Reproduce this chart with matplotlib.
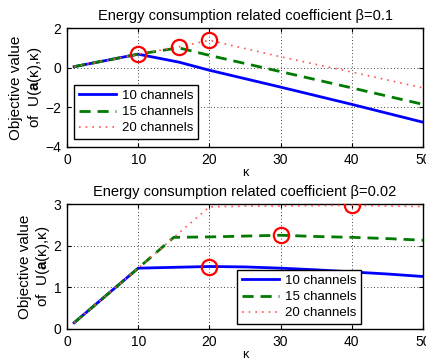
import numpy as np
import matplotlib.pyplot as plt

plt.rcParams['font.family'] = ['Liberation Sans', 'DejaVu Sans']
plt.rcParams['mathtext.fontset'] = 'custom'
plt.rcParams['mathtext.rm'] = 'Liberation Sans'
plt.rcParams['mathtext.bf'] = 'Liberation Sans:bold'

# beta = 0.1
k_top = [1, 10, 15.7, 20, 30, 40, 50]
top_10 = [0.05, 0.68, 0.28, -0.13, -0.98, -1.85, -2.75]
top_15 = [0.05, 0.68, 1.0, 0.62, -0.2, -1.02, -1.85]
top_20 = [0.05, 0.68, 1.05, 1.38, 0.55, -0.22, -1.02]
top_opt_k = [10, 15.7, 20]
top_opt_v = [0.68, 1.05, 1.38]

# beta = 0.02
k_bot = [1, 10, 15, 20, 25, 30, 35, 40, 45, 50]
bot_10 = [0.15, 1.46, 1.48, 1.5, 1.49, 1.46, 1.42, 1.37, 1.32, 1.26]
bot_15 = [0.15, 1.46, 2.2, 2.21, 2.23, 2.25, 2.22, 2.2, 2.17, 2.13]
bot_20 = [0.15, 1.46, 2.2, 2.93, 2.95, 2.95, 2.96, 2.97, 2.95, 2.94]
bot_opt_k = [20, 30, 40]
bot_opt_v = [1.5, 2.25, 2.97]

labels = ['10 channels', '15 channels', '20 channels']

fig = plt.figure(figsize=(4.26, 3.6), dpi=100)
ax1 = fig.add_axes([67/426, 1 - 147/360, 356/426, 119/360])
ax2 = fig.add_axes([67/426, 1 - 329/360, 356/426, 125/360])

def draw(ax, k, s10, s15, s20, ok, ov, title, ylim, yticks, loc, anchor):
	ax.plot(k, s10, color='#0000ff', linestyle='-', lw=2, label=labels[0], zorder=2)
	ax.plot(k, s15, color='#007a00', linestyle=(0, (4, 2.5)), lw=2, label=labels[1], zorder=3)
	ax.plot(k, s20, color='#ff5555', linestyle=(0, (1, 3)), lw=1.2, label=labels[2], zorder=4)
	ax.plot(ok, ov, 'o', ms=11, mfc='none', mec='#ff0000', mew=1.6, zorder=5)
	ax.set_xlim(0, 50)
	ax.set_ylim(*ylim)
	ax.set_xticks([0, 10, 20, 30, 40, 50])
	ax.set_yticks(yticks)
	ax.yaxis.set_major_formatter(plt.FuncFormatter(lambda v, _: f'{v:g}'.replace('-', '\u2212')))
	ax.grid(True, color='black', linestyle=(0, (1, 3)), lw=0.6)
	ax.tick_params(direction='in', labelsize=10, length=3, top=True, right=True, pad=4)
	for sp in ax.spines.values():
		sp.set_linewidth(1)
	ax.set_title(title, fontsize=10.5, pad=6)
	ax.set_xlabel('κ', fontsize=9, labelpad=0)
	ax.set_ylabel('Objective value\nof  U($\\mathbf{a}$(κ),κ)', fontsize=11, labelpad=1,
		linespacing=1.2)
	leg = ax.legend(loc=loc, bbox_to_anchor=anchor, borderaxespad=0, fontsize=9.5,
		fancybox=False, edgecolor='black', framealpha=1, handlelength=2.8,
		borderpad=0.35, labelspacing=0.3, handletextpad=0.45)
	leg.get_frame().set_linewidth(1)

draw(ax1, k_top, top_10, top_15, top_20, top_opt_k, top_opt_v,
	'Energy consumption related coefficient β=0.1', (-4, 2), [-4, -2, 0, 2],
	'lower left', (0.02, 0.067))
draw(ax2, k_bot, bot_10, bot_15, bot_20, bot_opt_k, bot_opt_v,
	'Energy consumption related coefficient β=0.02', (0, 3), [0, 1, 2, 3],
	'lower right', (0.826, 0.04))

fig.savefig('out.png', dpi=100)
